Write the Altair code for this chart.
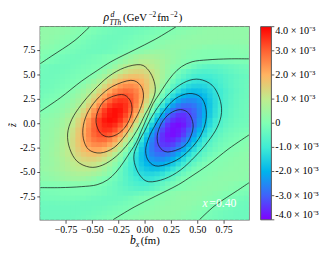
import altair as alt
import pandas as pd

# ---------------- data (values in units of 1e-3 GeV^-2 fm^-2) -------------
bx_centers = [-0.975, -0.925, -0.875, -0.825, -0.775, -0.725, -0.675, -0.625, -0.575, -0.525,
              -0.475, -0.425, -0.375, -0.325, -0.275, -0.225, -0.175, -0.125, -0.075, -0.025,
              0.025, 0.075, 0.125, 0.175, 0.225, 0.275, 0.325, 0.375, 0.425, 0.475,
              0.525, 0.575, 0.625, 0.675, 0.725, 0.775, 0.825, 0.875, 0.925, 0.975]
z_centers = [9.75, 9.25, 8.75, 8.25, 7.75, 7.25, 6.75, 6.25, 5.75, 5.25,
             4.75, 4.25, 3.75, 3.25, 2.75, 2.25, 1.75, 1.25, 0.75, 0.25,
             -0.25, -0.75, -1.25, -1.75, -2.25, -2.75, -3.25, -3.75, -4.25, -4.75,
             -5.25, -5.75, -6.25, -6.75, -7.25, -7.75, -8.25, -8.75, -9.25, -9.75]
rho_rows = [
    [0.3, 0.3, 0.3, 0.28, 0.26, 0.22, 0.17, 0.12, 0.06, 0.01, -0.04, -0.09, -0.14, -0.19, -0.23, -0.25, -0.26, -0.26, -0.25, -0.23, -0.2, -0.16, -0.12, -0.08, -0.04, -0.01, 0.03, 0.08, 0.13, 0.17, 0.21, 0.24, 0.27, 0.29, 0.3, 0.3, 0.3, 0.3, 0.3, 0.3],
    [0.3, 0.3, 0.29, 0.27, 0.24, 0.2, 0.15, 0.1, 0.04, -0.02, -0.07, -0.12, -0.17, -0.21, -0.24, -0.26, -0.26, -0.24, -0.21, -0.17, -0.13, -0.08, -0.04, -0.01, 0.03, 0.08, 0.12, 0.16, 0.2, 0.23, 0.26, 0.28, 0.3, 0.3, 0.3, 0.3, 0.3, 0.3, 0.3, 0.3],
    [0.3, 0.28, 0.26, 0.22, 0.18, 0.13, 0.08, 0.02, -0.04, -0.1, -0.15, -0.2, -0.24, -0.26, -0.26, -0.25, -0.22, -0.18, -0.13, -0.09, -0.05, -0.01, 0.03, 0.08, 0.12, 0.16, 0.2, 0.24, 0.26, 0.28, 0.3, 0.3, 0.3, 0.3, 0.3, 0.3, 0.3, 0.3, 0.3, 0.3],
    [0.28, 0.25, 0.2, 0.15, 0.1, 0.05, -0.01, -0.07, -0.13, -0.18, -0.22, -0.25, -0.26, -0.26, -0.24, -0.21, -0.17, -0.12, -0.07, -0.03, 0.01, 0.06, 0.12, 0.17, 0.22, 0.26, 0.28, 0.3, 0.3, 0.3, 0.3, 0.29, 0.28, 0.26, 0.25, 0.25, 0.25, 0.26, 0.27, 0.28],
    [0.2, 0.16, 0.12, 0.07, 0.02, -0.03, -0.08, -0.13, -0.18, -0.22, -0.25, -0.27, -0.28, -0.25, -0.21, -0.16, -0.11, -0.06, -0.02, 0.02, 0.07, 0.13, 0.2, 0.26, 0.3, 0.32, 0.32, 0.3, 0.27, 0.24, 0.2, 0.17, 0.15, 0.14, 0.14, 0.14, 0.15, 0.16, 0.17, 0.18],
    [0.1, 0.06, 0.02, -0.02, -0.06, -0.11, -0.16, -0.2, -0.23, -0.26, -0.27, -0.26, -0.24, -0.22, -0.17, -0.1, -0.03, 0.06, 0.15, 0.24, 0.32, 0.38, 0.41, 0.41, 0.37, 0.32, 0.26, 0.2, 0.15, 0.11, 0.08, 0.06, 0.05, 0.05, 0.06, 0.07, 0.08, 0.1, 0.12, 0.14],
    [0.02, -0.03, -0.08, -0.13, -0.18, -0.21, -0.23, -0.24, -0.23, -0.2, -0.16, -0.12, -0.07, -0.02, 0.03, 0.14, 0.28, 0.42, 0.54, 0.62, 0.65, 0.63, 0.57, 0.49, 0.41, 0.33, 0.26, 0.19, 0.13, 0.09, 0.06, 0.04, 0.03, 0.03, 0.03, 0.04, 0.05, 0.06, 0.07, 0.08],
    [-0.02, -0.07, -0.12, -0.17, -0.2, -0.22, -0.23, -0.22, -0.19, -0.16, -0.12, -0.08, -0.03, 0.03, 0.14, 0.3, 0.46, 0.6, 0.72, 0.85, 0.86, 0.8, 0.7, 0.58, 0.45, 0.32, 0.2, 0.09, 0.0, -0.07, -0.12, -0.14, -0.15, -0.14, -0.13, -0.11, -0.09, -0.07, -0.05, -0.04],
    [-0.2, -0.23, -0.25, -0.26, -0.25, -0.24, -0.21, -0.17, -0.13, -0.09, -0.05, -0.02, 0.05, 0.2, 0.42, 0.66, 0.88, 1.05, 1.15, 1.17, 1.1, 0.96, 0.78, 0.58, 0.39, 0.22, 0.1, 0.0, -0.12, -0.28, -0.4, -0.48, -0.52, -0.52, -0.48, -0.42, -0.35, -0.29, -0.24, -0.2],
    [-0.22, -0.24, -0.25, -0.25, -0.23, -0.2, -0.16, -0.12, -0.08, -0.04, 0.01, 0.12, 0.3, 0.52, 0.76, 0.98, 1.18, 1.33, 1.4, 1.4, 1.3, 1.12, 0.88, 0.62, 0.37, 0.12, -0.12, -0.32, -0.49, -0.61, -0.69, -0.72, -0.71, -0.66, -0.59, -0.51, -0.43, -0.36, -0.3, -0.26],
    [-0.25, -0.25, -0.24, -0.22, -0.19, -0.15, -0.11, -0.07, -0.03, 0.04, 0.16, 0.36, 0.6, 0.88, 1.16, 1.42, 1.63, 1.75, 1.77, 1.68, 1.5, 1.24, 0.93, 0.61, 0.29, -0.02, -0.3, -0.54, -0.73, -0.87, -0.95, -0.96, -0.93, -0.85, -0.75, -0.64, -0.54, -0.46, -0.39, -0.34],
    [-0.25, -0.24, -0.22, -0.19, -0.15, -0.11, -0.07, -0.02, 0.06, 0.2, 0.42, 0.68, 0.98, 1.3, 1.61, 1.88, 2.07, 2.15, 2.1, 1.93, 1.65, 1.3, 0.92, 0.52, 0.14, -0.23, -0.55, -0.81, -1.01, -1.14, -1.19, -1.17, -1.08, -0.95, -0.8, -0.66, -0.53, -0.43, -0.36, -0.31],
    [-0.25, -0.23, -0.2, -0.16, -0.11, -0.06, 0.0, 0.1, 0.26, 0.47, 0.71, 1.0, 1.34, 1.7, 2.04, 2.32, 2.48, 2.5, 2.37, 2.1, 1.73, 1.29, 0.82, 0.35, -0.1, -0.51, -0.86, -1.14, -1.34, -1.45, -1.46, -1.4, -1.25, -1.07, -0.88, -0.7, -0.55, -0.44, -0.36, -0.3],
    [-0.22, -0.19, -0.15, -0.1, -0.05, 0.01, 0.12, 0.27, 0.45, 0.68, 0.97, 1.33, 1.73, 2.13, 2.49, 2.75, 2.86, 2.8, 2.58, 2.21, 1.74, 1.2, 0.65, 0.11, -0.4, -0.86, -1.24, -1.53, -1.72, -1.79, -1.75, -1.62, -1.42, -1.2, -0.98, -0.77, -0.6, -0.47, -0.37, -0.3],
    [-0.18, -0.13, -0.08, -0.03, 0.04, 0.14, 0.26, 0.42, 0.64, 0.93, 1.3, 1.72, 2.16, 2.59, 2.94, 3.15, 3.18, 3.03, 2.7, 2.22, 1.65, 1.02, 0.39, -0.22, -0.79, -1.29, -1.7, -1.99, -2.14, -2.15, -2.05, -1.83, -1.55, -1.26, -0.98, -0.75, -0.57, -0.44, -0.35, -0.29],
    [-0.12, -0.07, -0.02, 0.05, 0.12, 0.22, 0.36, 0.56, 0.83, 1.18, 1.6, 2.08, 2.57, 3.0, 3.32, 3.46, 3.4, 3.14, 2.69, 2.1, 1.43, 0.73, 0.03, -0.64, -1.24, -1.76, -2.17, -2.43, -2.53, -2.47, -2.29, -2.0, -1.65, -1.3, -0.98, -0.73, -0.55, -0.42, -0.33, -0.28],
    [-0.06, -0.01, 0.06, 0.12, 0.2, 0.31, 0.48, 0.72, 1.05, 1.47, 1.95, 2.46, 2.96, 3.37, 3.62, 3.68, 3.5, 3.12, 2.56, 1.88, 1.13, 0.36, -0.39, -1.1, -1.74, -2.27, -2.65, -2.86, -2.88, -2.75, -2.46, -2.08, -1.68, -1.3, -0.97, -0.72, -0.53, -0.4, -0.32, -0.27],
    [0.0, 0.06, 0.12, 0.19, 0.28, 0.42, 0.63, 0.93, 1.32, 1.8, 2.34, 2.89, 3.38, 3.72, 3.86, 3.78, 3.48, 2.98, 2.33, 1.57, 0.76, -0.06, -0.86, -1.6, -2.24, -2.75, -3.08, -3.22, -3.15, -2.93, -2.55, -2.11, -1.65, -1.25, -0.91, -0.66, -0.49, -0.37, -0.3, -0.25],
    [0.12, 0.15, 0.2, 0.27, 0.38, 0.55, 0.8, 1.13, 1.55, 2.05, 2.59, 3.1, 3.53, 3.79, 3.86, 3.68, 3.28, 2.7, 1.97, 1.16, 0.3, -0.55, -1.37, -2.11, -2.74, -3.2, -3.46, -3.5, -3.35, -3.01, -2.55, -2.06, -1.6, -1.2, -0.88, -0.64, -0.47, -0.36, -0.29, -0.25],
    [0.2, 0.23, 0.28, 0.36, 0.49, 0.7, 0.98, 1.36, 1.83, 2.36, 2.9, 3.39, 3.74, 3.88, 3.8, 3.5, 3.0, 2.33, 1.54, 0.69, -0.19, -1.05, -1.86, -2.58, -3.15, -3.53, -3.69, -3.62, -3.37, -2.95, -2.44, -1.92, -1.45, -1.05, -0.75, -0.54, -0.4, -0.32, -0.27, -0.24],
    [0.24, 0.27, 0.32, 0.4, 0.54, 0.75, 1.05, 1.45, 1.92, 2.44, 2.95, 3.37, 3.62, 3.69, 3.53, 3.15, 2.58, 1.86, 1.05, 0.19, -0.69, -1.54, -2.33, -3.0, -3.5, -3.8, -3.88, -3.74, -3.39, -2.9, -2.36, -1.83, -1.36, -0.98, -0.7, -0.49, -0.36, -0.28, -0.23, -0.2],
    [0.25, 0.29, 0.36, 0.47, 0.64, 0.88, 1.2, 1.6, 2.06, 2.55, 3.01, 3.35, 3.5, 3.46, 3.2, 2.74, 2.11, 1.37, 0.55, -0.3, -1.16, -1.97, -2.7, -3.28, -3.68, -3.86, -3.79, -3.53, -3.1, -2.59, -2.05, -1.55, -1.13, -0.8, -0.55, -0.38, -0.27, -0.2, -0.15, -0.12],
    [0.25, 0.3, 0.37, 0.49, 0.66, 0.91, 1.25, 1.65, 2.11, 2.55, 2.93, 3.15, 3.22, 3.08, 2.75, 2.24, 1.6, 0.86, 0.06, -0.76, -1.57, -2.33, -2.98, -3.48, -3.78, -3.86, -3.72, -3.38, -2.89, -2.34, -1.8, -1.32, -0.93, -0.63, -0.42, -0.28, -0.19, -0.12, -0.06, 0.0],
    [0.27, 0.32, 0.4, 0.53, 0.72, 0.97, 1.3, 1.68, 2.08, 2.46, 2.75, 2.88, 2.86, 2.65, 2.27, 1.74, 1.1, 0.39, -0.36, -1.13, -1.88, -2.56, -3.12, -3.5, -3.68, -3.62, -3.37, -2.96, -2.46, -1.95, -1.47, -1.05, -0.72, -0.48, -0.31, -0.2, -0.12, -0.06, 0.01, 0.06],
    [0.28, 0.33, 0.42, 0.55, 0.73, 0.98, 1.3, 1.65, 2.0, 2.29, 2.47, 2.53, 2.43, 2.17, 1.76, 1.24, 0.64, -0.03, -0.73, -1.43, -2.1, -2.69, -3.14, -3.4, -3.46, -3.32, -3.0, -2.57, -2.08, -1.6, -1.18, -0.83, -0.56, -0.36, -0.22, -0.12, -0.05, 0.02, 0.07, 0.12],
    [0.29, 0.35, 0.44, 0.57, 0.75, 0.98, 1.26, 1.55, 1.83, 2.05, 2.15, 2.14, 1.99, 1.7, 1.29, 0.79, 0.22, -0.39, -1.02, -1.65, -2.22, -2.7, -3.03, -3.18, -3.15, -2.94, -2.59, -2.16, -1.72, -1.3, -0.93, -0.64, -0.42, -0.26, -0.14, -0.04, 0.03, 0.08, 0.13, 0.18],
    [0.3, 0.37, 0.47, 0.6, 0.77, 0.98, 1.2, 1.42, 1.62, 1.75, 1.79, 1.72, 1.53, 1.24, 0.86, 0.4, -0.11, -0.65, -1.2, -1.74, -2.21, -2.58, -2.8, -2.86, -2.75, -2.49, -2.13, -1.73, -1.33, -0.97, -0.68, -0.45, -0.27, -0.12, -0.01, 0.05, 0.1, 0.15, 0.19, 0.22],
    [0.3, 0.36, 0.44, 0.55, 0.7, 0.88, 1.07, 1.25, 1.4, 1.46, 1.45, 1.34, 1.14, 0.86, 0.51, 0.1, -0.35, -0.82, -1.29, -1.73, -2.1, -2.37, -2.5, -2.48, -2.32, -2.04, -1.7, -1.34, -1.0, -0.71, -0.47, -0.26, -0.1, 0.0, 0.06, 0.11, 0.16, 0.2, 0.23, 0.25],
    [0.31, 0.36, 0.43, 0.53, 0.66, 0.8, 0.95, 1.08, 1.17, 1.19, 1.14, 1.01, 0.81, 0.55, 0.23, -0.14, -0.52, -0.92, -1.3, -1.65, -1.93, -2.1, -2.15, -2.07, -1.88, -1.61, -1.3, -0.98, -0.68, -0.42, -0.2, -0.06, 0.02, 0.07, 0.11, 0.15, 0.19, 0.22, 0.24, 0.25],
    [0.34, 0.39, 0.46, 0.54, 0.64, 0.75, 0.85, 0.93, 0.96, 0.95, 0.87, 0.73, 0.54, 0.3, 0.02, -0.29, -0.61, -0.93, -1.24, -1.5, -1.68, -1.77, -1.75, -1.63, -1.42, -1.16, -0.88, -0.6, -0.36, -0.16, -0.04, 0.03, 0.07, 0.11, 0.15, 0.19, 0.22, 0.24, 0.25, 0.25],
    [0.26, 0.3, 0.36, 0.43, 0.51, 0.59, 0.66, 0.71, 0.72, 0.69, 0.61, 0.49, 0.32, 0.12, -0.12, -0.37, -0.62, -0.88, -1.12, -1.3, -1.4, -1.4, -1.33, -1.18, -0.98, -0.76, -0.52, -0.3, -0.12, -0.01, 0.04, 0.08, 0.12, 0.16, 0.2, 0.23, 0.25, 0.25, 0.24, 0.22],
    [0.2, 0.24, 0.29, 0.35, 0.42, 0.48, 0.52, 0.52, 0.48, 0.4, 0.28, 0.12, 0.0, -0.1, -0.22, -0.39, -0.58, -0.78, -0.96, -1.1, -1.17, -1.15, -1.05, -0.88, -0.66, -0.42, -0.2, -0.05, 0.02, 0.05, 0.09, 0.13, 0.17, 0.21, 0.24, 0.25, 0.26, 0.25, 0.23, 0.2],
    [0.04, 0.05, 0.07, 0.09, 0.11, 0.13, 0.14, 0.15, 0.14, 0.12, 0.07, 0.0, -0.09, -0.2, -0.32, -0.45, -0.58, -0.7, -0.8, -0.86, -0.85, -0.72, -0.6, -0.46, -0.3, -0.14, -0.03, 0.03, 0.08, 0.12, 0.16, 0.19, 0.22, 0.23, 0.22, 0.2, 0.17, 0.12, 0.07, 0.02],
    [-0.08, -0.07, -0.06, -0.05, -0.04, -0.03, -0.03, -0.03, -0.04, -0.06, -0.09, -0.13, -0.19, -0.26, -0.33, -0.41, -0.49, -0.57, -0.63, -0.65, -0.62, -0.54, -0.42, -0.28, -0.14, -0.03, 0.02, 0.07, 0.12, 0.16, 0.2, 0.23, 0.24, 0.23, 0.21, 0.18, 0.13, 0.08, 0.03, -0.02],
    [-0.14, -0.12, -0.1, -0.08, -0.07, -0.06, -0.05, -0.05, -0.06, -0.08, -0.11, -0.15, -0.2, -0.26, -0.32, -0.37, -0.41, -0.41, -0.38, -0.32, -0.24, -0.15, -0.06, 0.03, 0.1, 0.17, 0.22, 0.24, 0.26, 0.27, 0.26, 0.23, 0.2, 0.16, 0.11, 0.06, 0.02, -0.02, -0.06, -0.1],
    [-0.18, -0.17, -0.16, -0.15, -0.14, -0.14, -0.14, -0.15, -0.17, -0.2, -0.24, -0.27, -0.3, -0.32, -0.32, -0.3, -0.26, -0.2, -0.13, -0.07, -0.02, 0.02, 0.06, 0.11, 0.16, 0.21, 0.25, 0.28, 0.27, 0.25, 0.22, 0.18, 0.13, 0.08, 0.03, -0.02, -0.07, -0.12, -0.16, -0.2],
    [-0.28, -0.27, -0.26, -0.25, -0.25, -0.25, -0.26, -0.28, -0.29, -0.3, -0.3, -0.3, -0.3, -0.28, -0.26, -0.22, -0.17, -0.12, -0.06, -0.01, 0.03, 0.07, 0.12, 0.17, 0.21, 0.24, 0.26, 0.26, 0.25, 0.22, 0.18, 0.13, 0.07, 0.01, -0.05, -0.1, -0.15, -0.2, -0.25, -0.28],
    [-0.3, -0.3, -0.3, -0.3, -0.3, -0.3, -0.3, -0.3, -0.3, -0.3, -0.28, -0.26, -0.24, -0.2, -0.16, -0.12, -0.08, -0.03, 0.01, 0.05, 0.09, 0.13, 0.18, 0.22, 0.25, 0.26, 0.26, 0.24, 0.2, 0.15, 0.1, 0.04, -0.02, -0.08, -0.13, -0.18, -0.22, -0.26, -0.28, -0.3],
    [-0.3, -0.3, -0.3, -0.3, -0.3, -0.3, -0.3, -0.3, -0.28, -0.26, -0.23, -0.2, -0.16, -0.12, -0.08, -0.03, 0.01, 0.04, 0.08, 0.13, 0.17, 0.21, 0.24, 0.26, 0.26, 0.24, 0.21, 0.17, 0.12, 0.07, 0.02, -0.04, -0.1, -0.15, -0.2, -0.24, -0.27, -0.29, -0.3, -0.3],
    [-0.3, -0.3, -0.3, -0.3, -0.3, -0.3, -0.29, -0.27, -0.24, -0.21, -0.17, -0.13, -0.08, -0.03, 0.01, 0.04, 0.08, 0.12, 0.16, 0.2, 0.23, 0.25, 0.26, 0.26, 0.25, 0.23, 0.19, 0.14, 0.09, 0.04, -0.01, -0.06, -0.12, -0.17, -0.22, -0.26, -0.28, -0.3, -0.3, -0.3],
]
cell_half_width = [0.031, 0.31]   # half cell size in bx and z (overlap of ~1px hides seams)

# contour lines (bx, z)
open_lines = {
    "A": ([-0.99, -0.88, -0.78, -0.66, -0.52], [6.1, 6.9, 7.6, 8.5, 9.9]),
    "B": ([-0.99, -0.8, -0.6, -0.45, -0.32, -0.1, 0.1, 0.3], [1.2, 2.6, 4.3, 5.4, 6.3, 7.5, 8.6, 9.9]),
    "S": ([0.99, 0.8, 0.6, 0.45, 0.35, 0.27, 0.2, 0.14, 0.08, 0.04, 0.0, -0.04, -0.08, -0.14, -0.2, -0.27, -0.35, -0.45, -0.6, -0.8, -0.99],
          [6.6, 6.6, 6.5, 6.3, 5.8, 5.0, 4.0, 3.0, 2.0, 1.0, 0.0, -1.0, -2.0, -3.0, -4.0, -5.0, -5.8, -6.3, -6.5, -6.6, -6.6]),
    "D": ([0.99, 0.8, 0.6, 0.45, 0.32, 0.1, -0.1, -0.3], [-1.2, -2.6, -4.3, -5.4, -6.3, -7.5, -8.6, -9.9]),
    "E": ([0.99, 0.88, 0.78, 0.66, 0.52], [-6.1, -6.9, -7.6, -8.5, -9.9]),
}
closed_lines = {
    "r1": ([-0.04, 0.04, 0.09, 0.1, 0.06, 0.0, -0.06, -0.15, -0.27, -0.4, -0.52, -0.64, -0.71, -0.73, -0.69, -0.6, -0.48, -0.34, -0.19],
           [6.0, 5.4, 4.3, 3.2, 2.0, 0.8, -0.5, -2.0, -3.4, -4.3, -4.5, -3.9, -2.6, -1.1, 0.4, 1.9, 3.4, 4.8, 5.7]),
    "r2": ([-0.13, -0.04, -0.01, -0.04, -0.1, -0.18, -0.29, -0.42, -0.53, -0.58, -0.58, -0.53, -0.43, -0.3],
           [4.4, 3.9, 2.8, 1.5, 0.2, -1.2, -2.5, -3.05, -2.7, -1.6, -0.2, 1.3, 2.7, 3.8]),
    "r3": ([-0.22, -0.14, -0.12, -0.16, -0.24, -0.34, -0.42, -0.46, -0.44, -0.37],
           [2.95, 2.4, 1.3, 0.0, -1.0, -1.4, -1.0, 0.1, 1.3, 2.4]),
    "b1": ([0.04, -0.04, -0.09, -0.1, -0.06, 0.0, 0.06, 0.15, 0.27, 0.4, 0.52, 0.64, 0.71, 0.73, 0.69, 0.6, 0.48, 0.34, 0.19],
           [-6.0, -5.4, -4.3, -3.2, -2.0, -0.8, 0.5, 2.0, 3.4, 4.3, 4.5, 3.9, 2.6, 1.1, -0.4, -1.9, -3.4, -4.8, -5.7]),
    "b2": ([0.13, 0.04, 0.01, 0.04, 0.1, 0.18, 0.29, 0.42, 0.53, 0.58, 0.58, 0.53, 0.43, 0.3],
           [-4.4, -3.9, -2.8, -1.5, -0.2, 1.2, 2.5, 3.05, 2.7, 1.6, 0.2, -1.3, -2.7, -3.8]),
    "b3": ([0.22, 0.14, 0.12, 0.16, 0.24, 0.34, 0.42, 0.46, 0.44, 0.37],
           [-2.95, -2.4, -1.3, 0.0, 1.0, 1.4, 1.0, -0.1, -1.3, -2.4]),
}

x_ticks = [-0.75, -0.5, -0.25, 0.0, 0.25, 0.5, 0.75]
y_ticks = [-7.5, -5.0, -2.5, 0.0, 2.5, 5.0, 7.5]
cbar_ticks = [-4, -3, -2, -1, 0, 1, 2, 3, 4]
cmap_stops = [-4, -3, -2, -1, 0, 1, 2, 3, 4]
cmap_colors = ["#8000FF", "#4062FA", "#00B4EC", "#40ECD4", "#80FFB4",
               "#BFEC8E", "#FFB462", "#FF6232", "#FF0000"]

FONT = "Liberation Serif"

# ---------------- tables ----------------
hx, hz = cell_half_width
cells = []
for i, z in enumerate(z_centers):
    for j, bx in enumerate(bx_centers):
        cells.append({"x0": bx - hx, "x1": bx + hx, "y0": z - hz, "y1": z + hz, "v": rho_rows[i][j]})
cells = pd.DataFrame(cells)

def lines_df(d):
    rows = []
    for name, (xs_, zs_) in d.items():
        for k, (a, b) in enumerate(zip(xs_, zs_)):
            rows.append({"name": name, "k": k, "bx": a, "z": b})
    return pd.DataFrame(rows)

open_df = lines_df(open_lines)
closed_df = lines_df(closed_lines)
ticks_df = pd.DataFrame({"v": cbar_ticks})

xs = alt.Scale(domain=[-0.99, 0.99], nice=False, zero=False)
ys = alt.Scale(domain=[-9.9, 9.9], nice=False, zero=False)
cs = alt.Scale(type="linear", domain=cmap_stops, range=cmap_colors, clamp=True, interpolate="rgb")

def x_enc(field):
    return alt.X(field, scale=xs, axis=alt.Axis(values=x_ticks, format=".2f", title=None, labelOverlap=False))

legend_expr = ("datum.value == 0 ? '0' : replace(format(datum.value, '.1f'), '\u2212', '-') + ' \u00d7 10\u207b\u00b3'")

heat = alt.Chart(cells).mark_rect(clip=True).encode(
    x=x_enc("x0:Q"),
    x2="x1:Q",
    y=alt.Y("y0:Q", scale=ys, axis=alt.Axis(values=y_ticks, title=None, labelOverlap=False,
            labelExpr="replace(format(datum.value, '.1f'), '\u2212', '-')")),
    y2="y1:Q",
    color=alt.Color("v:Q", scale=cs, legend=alt.Legend(
        type="gradient", orient="none", legendX=226, legendY=0, direction="vertical",
        gradientLength=198, gradientThickness=11, values=cbar_ticks,
        labelExpr=legend_expr, labelOverlap=False, labelBaseline="middle",
        labelFont=FONT, labelFontSize=10.5, labelColor="#000", labelOffset=4,
        gradientStrokeColor="#555", gradientStrokeWidth=1, title=None, padding=0)),
)

open_lines_layer = alt.Chart(open_df).mark_line(
    clip=True, interpolate="catmull-rom", color="#111", strokeWidth=0.8, opacity=0.9
).encode(x=x_enc("bx:Q"), y=alt.Y("z:Q", scale=ys, axis=None),
         detail="name:N", order="k:Q")

closed_lines_layer = alt.Chart(closed_df).mark_line(
    clip=True, interpolate="cardinal-closed", color="#111", strokeWidth=0.8, opacity=0.9
).encode(x=x_enc("bx:Q"), y=alt.Y("z:Q", scale=ys, axis=None),
         detail="name:N", order="k:Q")

# colorbar tick marks (on their own value scale spanning the bar)
cbar_tick_layer = alt.Chart(ticks_df).mark_rule(color="#333", strokeWidth=0.8).encode(
    x=alt.value(237), x2=alt.value(240),
    y=alt.Y("v:Q", scale=alt.Scale(domain=[-4, 4], nice=False, zero=False), axis=None))

# annotation x = 0.40
ann = pd.DataFrame({"bx": [0.549, 0.614], "z": [-8.55, -8.55], "t": ["x", "=0.40"]})
ann_x = alt.Chart(ann.iloc[[0]]).mark_text(align="left", baseline="alphabetic", font=FONT, fontSize=12,
                                          fontStyle="italic", color="white").encode(
    x=x_enc("bx:Q"), y=alt.Y("z:Q", scale=ys, axis=None), text="t:N")
ann_v = alt.Chart(ann.iloc[[1]]).mark_text(align="left", baseline="alphabetic", font=FONT, fontSize=12,
                                          color="white").encode(
    x=x_enc("bx:Q"), y=alt.Y("z:Q", scale=ys, axis=None), text="t:N")

def label(txt, px, py, size=11, style="normal", angle=0, align="left"):
    return alt.Chart(pd.DataFrame({"t": [txt]})).mark_text(
        align=align, baseline="alphabetic", font=FONT, fontSize=size, fontStyle=style,
        color="#000", angle=angle).encode(x=alt.value(px), y=alt.value(py), text="t:N")

title_parts = [
    label("\u03c1", 65, -6, 12, "italic"),
    label("d", 72, -10, 8, "italic"),
    label("TTh", 71, -2, 7.5, "italic"),
    label("(GeV", 85, -6, 11),
    label("\u22122", 111, -10, 7.5),
    label("fm", 120, -6, 11),
    label("\u22122", 133, -10, 7.5),
    label(")", 142, -6, 11),
]
xtitle = [
    label("b", 92, 223, 12, "italic"),
    label("x", 98, 225.5, 8, "italic"),
    label("(fm)", 103, 223, 11),
]
ytitle = [label("z\u0303", -25, 101, 10, "italic", angle=270, align="center")]

chart = alt.layer(heat, open_lines_layer, closed_lines_layer, cbar_tick_layer, ann_x, ann_v,
                  *title_parts, *xtitle, *ytitle).resolve_scale(y="independent").properties(
    width=214, height=198,
    autosize=alt.AutoSizeParams(type="none"),
    padding={"left": 33, "top": 16, "right": 80, "bottom": 36},
).configure_view(stroke="#666", strokeWidth=1.4, fill="#86F8B0").configure_axis(
    domain=False, grid=False, ticks=True, tickColor="#222", tickSize=3.5, tickWidth=0.8,
    labelFont=FONT, labelFontSize=10, labelColor="#000", labelPadding=2,
)

chart.save("out.html", embed_options={"renderer": "svg", "actions": False})
